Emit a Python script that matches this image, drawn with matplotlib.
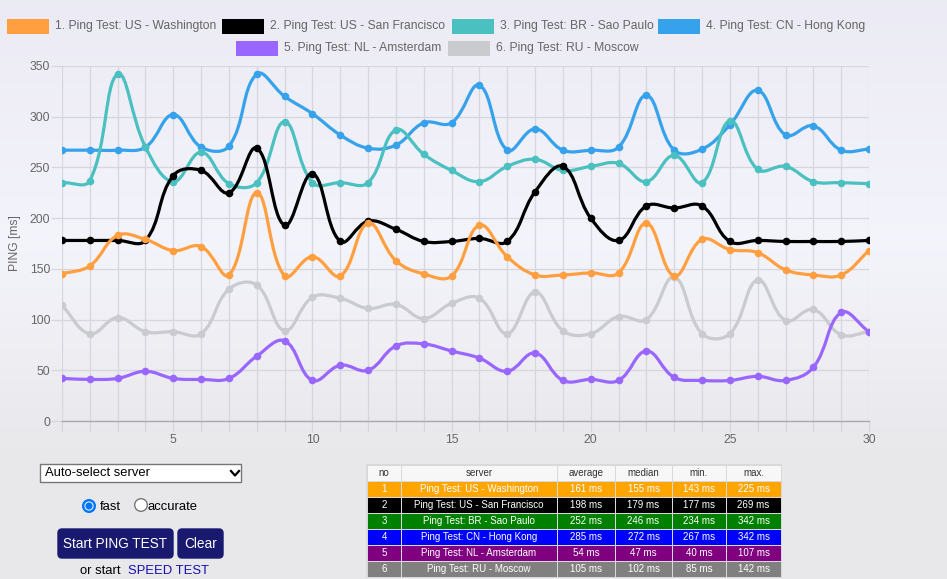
import numpy as np
import matplotlib
matplotlib.use("Agg")
import matplotlib.pyplot as plt
from matplotlib.path import Path
from matplotlib.patches import PathPatch, Rectangle, FancyBboxPatch, Circle

plt.rcParams['font.family'] = ['Liberation Sans', 'DejaVu Sans']

# ---------------- data ----------------
runs = list(range(1, 31))
series_names = ["1. Ping Test: US - Washington", "2. Ping Test: US - San Francisco",
                "3. Ping Test: BR - Sao Paulo", "4. Ping Test: CN - Hong Kong",
                "5. Ping Test: NL - Amsterdam", "6. Ping Test: RU - Moscow"]
washington = [145, 153, 183, 179, 168, 172, 144, 225, 143, 162,
              143, 195, 158, 145, 143, 193, 162, 144, 144, 146,
              146, 195, 143, 179, 169, 166, 149, 144, 144, 168]
san_francisco = [178, 178, 178, 178, 242, 247, 225, 269, 193, 244,
                 177, 197, 189, 177, 177, 180, 177, 226, 251, 200,
                 178, 212, 210, 212, 177, 178, 177, 177, 177, 178]
sao_paulo = [235, 237, 342, 270, 236, 265, 234, 235, 295, 235,
             235, 235, 287, 263, 247, 236, 251, 258, 247, 251,
             254, 236, 262, 235, 296, 248, 251, 236, 235, 234]
hong_kong = [267, 267, 267, 270, 302, 270, 271, 342, 320, 303,
             282, 269, 272, 294, 294, 331, 267, 288, 267, 267,
             270, 321, 267, 268, 292, 326, 282, 291, 267, 268]
amsterdam = [42, 41, 42, 49, 42, 41, 42, 64, 79, 40,
             55, 50, 74, 76, 69, 62, 49, 67, 40, 41,
             40, 69, 43, 40, 40, 44, 40, 53, 107, 88]
moscow = [114, 86, 102, 88, 88, 86, 130, 134, 89, 122,
          121, 111, 115, 101, 116, 121, 86, 127, 89, 86,
          103, 100, 142, 86, 86, 139, 99, 110, 85, 88]
series_values = [washington, san_francisco, sao_paulo, hong_kong, amsterdam, moscow]
series_colors = ["#ff9f40", "#000000", "#4bc0c0", "#36a2eb", "#9966ff", "#c9cbcf"]

y_ticks = [0, 50, 100, 150, 200, 250, 300, 350]
x_label_ticks = [5, 10, 15, 20, 25, 30]
y_title = "PING [ms]"

table_header = ["no", "server", "average", "median", "min.", "max."]
table_no = ["1", "2", "3", "4", "5", "6"]
table_server = ["Ping Test: US - Washington", "Ping Test: US - San Francisco",
                "Ping Test: BR - Sao Paulo", "Ping Test: CN - Hong Kong",
                "Ping Test: NL - Amsterdam", "Ping Test: RU - Moscow"]
table_average = ["161 ms", "198 ms", "252 ms", "285 ms", "54 ms", "105 ms"]
table_median = ["155 ms", "179 ms", "246 ms", "272 ms", "47 ms", "102 ms"]
table_min = ["143 ms", "177 ms", "234 ms", "267 ms", "40 ms", "85 ms"]
table_max = ["225 ms", "269 ms", "342 ms", "342 ms", "107 ms", "142 ms"]
table_row_colors = ["#ffa500", "#000000", "#008000", "#0000ff", "#800080", "#808080"]

W, H = 947, 579
fig = plt.figure(figsize=(W / 100, H / 100), dpi=100)

# background
bg = fig.add_axes([0, 0, 1, 1], zorder=-10)
bg.axis('off')
grad = np.ones((H, 1, 3))
top_c = np.array([0.925, 0.922, 0.960])
mid_c = np.array([0.955, 0.955, 0.985])
bot_c = np.array([0.913, 0.913, 0.925])
for r in range(H):
    if r < 240:
        f = r / 240
        grad[r, 0] = top_c * (1 - f) + mid_c * f
    elif r < 450:
        f = (r - 240) / 210
        grad[r, 0] = mid_c * (1 - f) + bot_c * f
    else:
        grad[r, 0] = bot_c
bg.imshow(grad, aspect='auto', extent=[0, 1, 0, 1])

# ---------------- chart ----------------
L, R, T, B = 62, 869, 66, 421
ax = fig.add_axes([L / W, 1 - B / H, (R - L) / W, (B - T) / H])
ax.set_facecolor('none')
ax.set_xlim(1, 30)
ax.set_ylim(0, 350)
sx = (R - L) / 29.0
sy = (B - T) / 350.0


def spline_path(xs, ys, t=0.4):
    px = np.array(xs, float) * sx
    py = np.array(ys, float) * sy
    n = len(px)
    pc, nc = [], []
    for i in range(n):
        p = i - 1 if i > 0 else i
        q = i + 1 if i < n - 1 else i
        d01 = np.hypot(px[i] - px[p], py[i] - py[p])
        d12 = np.hypot(px[q] - px[i], py[q] - py[i])
        tot = d01 + d12
        s01 = d01 / tot if tot else 0
        s12 = d12 / tot if tot else 0
        fa, fb = t * s01, t * s12
        pc.append((px[i] - fa * (px[q] - px[p]), py[i] - fa * (py[q] - py[p])))
        nc.append((px[i] + fb * (px[q] - px[p]), py[i] + fb * (py[q] - py[p])))
    verts = [(px[0], py[0])]
    codes = [Path.MOVETO]
    for i in range(n - 1):
        verts += [nc[i], pc[i + 1], (px[i + 1], py[i + 1])]
        codes += [Path.CURVE4] * 3
    verts = [(vx / sx, min(max(vy / sy, 0), 350)) for vx, vy in verts]
    return Path(verts, codes)


for k, (vals, col) in enumerate(zip(series_values, series_colors)):
    z = 10 - k
    ax.add_patch(PathPatch(spline_path(runs, vals), fill=False, ec=col, lw=2.3,
                           zorder=z, capstyle='round', joinstyle='round'))
    ax.scatter(runs, vals, s=30, color=col, zorder=z, linewidths=0)

ax.set_xticks(runs)
ax.set_xticklabels([str(r) if r in x_label_ticks else "" for r in runs])
ax.set_yticks(y_ticks)
ax.grid(True, color='#d6d6dc', lw=0.9, zorder=0)
ax.set_axisbelow(True)
for s in ['top', 'right', 'left']:
    ax.spines[s].set_visible(False)
ax.spines['bottom'].set_color('#a8a8ae')
ax.spines['bottom'].set_linewidth(1.0)
ax.tick_params(axis='both', length=8, width=0.9, color='#d6d6dc',
               labelcolor='#666666', labelsize=8.7)
ax.tick_params(axis='y', pad=0.5)
ax.tick_params(axis='x', pad=1.5)
ax.set_ylabel(y_title, color='#666666', fontsize=8.7, labelpad=6)

# ---------------- overlay (pixel coords) ----------------
ui = fig.add_axes([0, 0, 1, 1], zorder=5)
ui.set_xlim(0, W)
ui.set_ylim(H, 0)
ui.axis('off')
ui.patch.set_alpha(0)

# legend
legend_pos = [(7, 26), (222, 26), (452, 26), (658, 26), (236, 48), (448, 48)]
for (lx, ly), name, col in zip(legend_pos, series_names, series_colors):
    ui.add_patch(Rectangle((lx, ly - 7.5), 42, 15, fc=col, ec=col, lw=0))
    ui.text(lx + 48, ly, name, color='#666666', fontsize=8.7, va='center', ha='left')

# dropdown
ui.add_patch(Rectangle((40, 464), 201, 18, fc='white', ec='#767676', lw=1))
ui.text(45, 473.5, "Auto-select server", fontsize=9.4, color='black', va='center')
ui.plot([231, 235, 239], [471, 475.5, 471], color='black', lw=1.6)

# radios
ui.add_patch(Circle((89, 506), 6.3, fc='#0075ff', ec='#0075ff'))
ui.add_patch(Circle((89, 506), 4.6, fc='white', ec='none'))
ui.add_patch(Circle((89, 506), 3.6, fc='#0075ff', ec='none'))
ui.text(100, 506.5, "fast", fontsize=9.4, va='center')
ui.add_patch(Circle((141, 505), 6.3, fc='white', ec='#767676', lw=1))
ui.text(147, 506.5, "accurate", fontsize=9.4, va='center')

# buttons
ui.add_patch(FancyBboxPatch((58, 529), 115, 29, boxstyle="round,pad=0,rounding_size=4",
                            fc='#191970', ec='#191970'))
ui.text(115.5, 543.5, "Start PING TEST", color='white', fontsize=9.8, ha='center', va='center')
ui.add_patch(FancyBboxPatch((178, 529), 45, 29, boxstyle="round,pad=0,rounding_size=4",
                            fc='#191970', ec='#191970'))
ui.text(200.5, 543.5, "Clear", color='white', fontsize=9.8, ha='center', va='center')
ui.text(80, 577, "or start", fontsize=9.4, color='black', va='bottom')
ui.text(128, 577, "SPEED TEST", fontsize=9.4, color='#1a0dab', va='bottom')

# table
col_edges = [367, 401, 557, 615, 672, 726, 781]
row_edges = [465, 481, 497, 513, 529, 545, 561, 577]
ui.add_patch(Rectangle((col_edges[0] - 1, row_edges[0] - 1), col_edges[-1] - col_edges[0] + 2,
                       row_edges[-1] - row_edges[0] + 2, fc='#d9d9dc', ec='none'))
for c in range(6):
    x0, x1 = col_edges[c], col_edges[c + 1]
    ui.add_patch(Rectangle((x0 + 0.5, row_edges[0] + 0.5), x1 - x0 - 1, 15, fc='#f7f7f7', ec='none'))
    ui.text((x0 + x1) / 2, (row_edges[0] + row_edges[1]) / 2 + 0.5, table_header[c],
            fontsize=7, color='#333333', ha='center', va='center')
cols = [table_no, table_server, table_average, table_median, table_min, table_max]
for r in range(6):
    y0, y1 = row_edges[r + 1], row_edges[r + 2]
    for c in range(6):
        x0, x1 = col_edges[c], col_edges[c + 1]
        ui.add_patch(Rectangle((x0 + 0.5, y0 + 0.5), x1 - x0 - 1, y1 - y0 - 1,
                               fc=table_row_colors[r], ec='none'))
        ui.text((x0 + x1) / 2, (y0 + y1) / 2 + 0.5, cols[c][r], fontsize=7,
                color='white', ha='center', va='center')

fig.savefig("out.png", dpi=100)
